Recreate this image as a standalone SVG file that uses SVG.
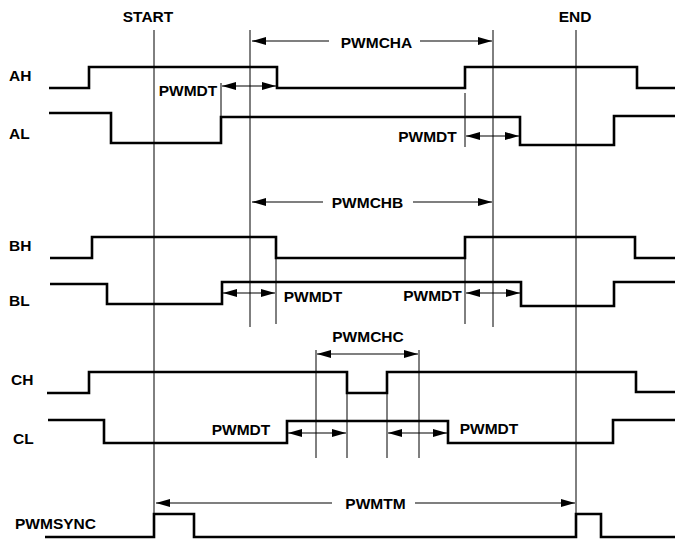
<svg xmlns="http://www.w3.org/2000/svg" width="675" height="540" viewBox="0 0 675 540">
<style>
.sig{fill:none;stroke:#000;stroke-width:2.6;stroke-linejoin:miter}
.vl{fill:none;stroke:#000;stroke-width:1}
.ar{fill:none;stroke:#000;stroke-width:1.1}
.one{marker-end:url(#ah)}
.two{marker-start:url(#ah);marker-end:url(#ah)}
text{font-family:"Liberation Sans",Arial,sans-serif;font-weight:bold;font-size:15.5px;fill:#000}
.m{text-anchor:middle}
</style>
<defs>
<marker id="ah" markerUnits="userSpaceOnUse" markerWidth="15" markerHeight="9" refX="14" refY="4" orient="auto-start-reverse" viewBox="0 0 15 8">
<path d="M0,0 L14,4 L0,8 z" fill="#000"/>
</marker>
</defs>
<g id="labels">
<text class="m" x="148" y="21.5">START</text>
<text class="m" x="575" y="21.5">END</text>
<text x="9" y="80.5">AH</text>
<text x="9" y="138.5">AL</text>
<text x="9" y="250.5">BH</text>
<text x="9" y="305.5">BL</text>
<text x="11" y="384.5">CH</text>
<text x="13" y="443.5">CL</text>
<text x="15" y="528.5">PWMSYNC</text>
</g>
<g id="grid">
<path class="vl" d="M154,30V514 M250,30V327 M493,30V327 M576,30V514 M221,83V117 M465,93V147 M276,237V324 M465,237V324 M316,350V458 M347,393V458 M387,393V458 M419,350V458"/>
</g>
<g id="AH"><path class="sig" d="M49,88 H89 V67 H277 V88 H465 V67 H637 V88 H675"/></g>
<g id="AL"><path class="sig" d="M49,113 H111 V143 H221 V117 H520 V145 H614 V116 H675"/></g>
<g id="BH"><path class="sig" d="M50,258 H92 V237 H276 V258 H465 V237 H635 V258 H675"/></g>
<g id="BL"><path class="sig" d="M50,284 H107 V304 H222 V282 H521 V306 H614 V282 H675"/></g>
<g id="CH"><path class="sig" d="M47,393 H89 V372 H347 V393 H387 V372 H636 V392 H675"/></g>
<g id="CL"><path class="sig" d="M48,420 H104 V443 H287 V421 H448 V443 H613 V420 H675"/></g>
<g id="PWMSYNC"><path class="sig" d="M45,537 H154 V514 H194 V537 H576 V514 H601 V537 H675"/></g>
<g id="connectors">
<path class="ar one" d="M329,41H252"/>
<path class="ar one" d="M420,41H492"/>
<path class="ar two" d="M222,86H276"/>
<path class="ar two" d="M466,136H519"/>
<path class="ar one" d="M323,202H252"/>
<path class="ar one" d="M413,202H492"/>
<path class="ar two" d="M223,293H275"/>
<path class="ar two" d="M466,293H520"/>
<path class="ar two" d="M317,354H418"/>
<path class="ar two" d="M288,433H346"/>
<path class="ar two" d="M388,433H447"/>
<path class="ar one" d="M332,503H156"/>
<path class="ar one" d="M415,503H575"/>
</g>
<g id="measure-labels">
<text class="m" x="376.5" y="47.5">PWMCHA</text>
<text class="m" x="188" y="95.5">PWMDT</text>
<text class="m" x="427.5" y="141.5">PWMDT</text>
<text class="m" x="367.5" y="207.5">PWMCHB</text>
<text class="m" x="313" y="302">PWMDT</text>
<text class="m" x="432.5" y="301">PWMDT</text>
<text class="m" x="368" y="341.5">PWMCHC</text>
<text class="m" x="241" y="434.5">PWMDT</text>
<text class="m" x="489" y="433.5">PWMDT</text>
<text class="m" x="375.5" y="508.5">PWMTM</text>
</g>
</svg>
